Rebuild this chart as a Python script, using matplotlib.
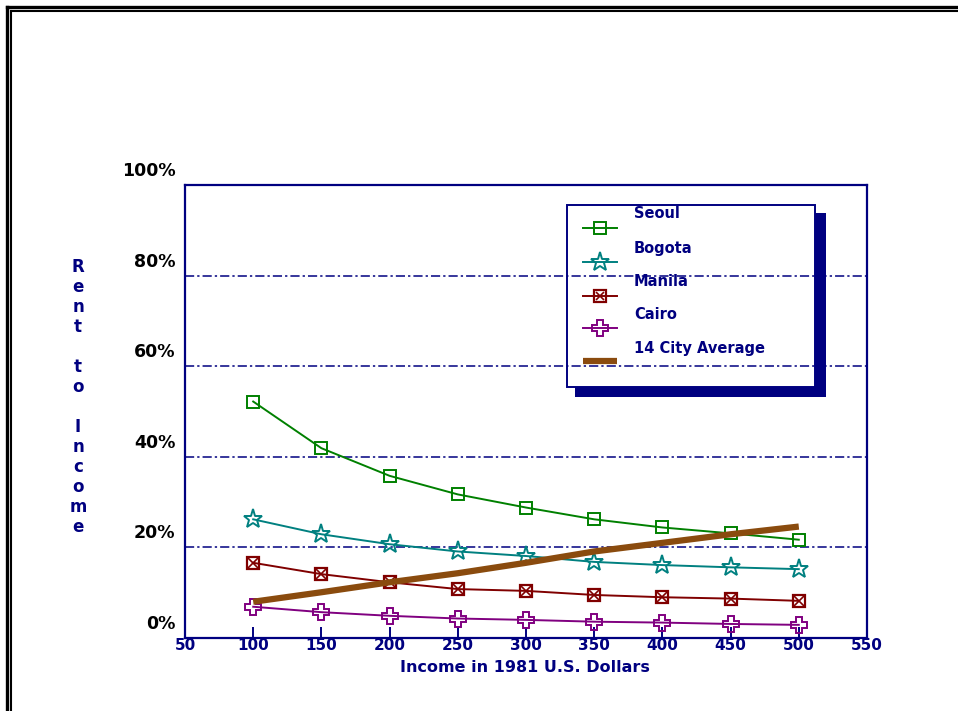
import numpy as np
from matplotlib import pyplot as plt
from matplotlib import lines as mlines
from matplotlib import patches as mpatches
from matplotlib.transforms import ScaledTranslation

income = [100, 150, 200, 250, 300, 350, 400, 450, 500]
seoul = [52.2, 41.9, 35.8, 31.7, 28.8, 26.2, 24.4, 23.1, 21.7]
bogota = [26.2, 22.9, 20.7, 19.1, 18.1, 16.8, 16.1, 15.6, 15.2]
manila = [16.6, 14.1, 12.3, 10.8, 10.4, 9.5, 9.0, 8.7, 8.2]
cairo = [6.9, 5.7, 4.9, 4.3, 4.0, 3.6, 3.4, 3.1, 2.9]
average = [8.0, 10.1, 12.3, 14.3, 16.6, 19.1, 21.0, 22.9, 24.6]

xticks = [50, 100, 150, 200, 250, 300, 350, 400, 450, 500, 550]
yticks = [0, 20, 40, 60, 80, 100]
ylabels = ['0%', '20%', '40%', '60%', '80%', '100%']

NAVY = '#000080'
W, H = 958, 711

fig = plt.figure(figsize=(W / 100, H / 100), dpi=100)
plt.rcParams['font.family'] = 'DejaVu Sans'

def fx(px):
	return px / W

def fy(py):
	return 1 - py / H

# double frame at top and left
fig.add_artist(mlines.Line2D([fx(6.5), fx(6.5)], [fy(6.5), 0], color='black', lw=2.4))
fig.add_artist(mlines.Line2D([fx(6.5), 1], [fy(6.5), fy(6.5)], color='black', lw=2.4))
fig.add_artist(mlines.Line2D([fx(10.5), fx(10.5)], [fy(10.5), 0], color='black', lw=1.5))
fig.add_artist(mlines.Line2D([fx(10.5), 1], [fy(10.5), fy(10.5)], color='black', lw=1.5))

ax = fig.add_axes([fx(185), fy(638), fx(867) - fx(185), fy(185) - fy(638)])
ax.set_xlim(50, 550)
ax.set_ylim(0, 100)
for s in ax.spines.values():
	s.set_color(NAVY)
	s.set_linewidth(1.6)

for g in yticks[1:-1]:
	ax.axhline(g, color=NAVY, lw=1.1, dashes=(6, 2, 1.5, 2), zorder=1)

ax.plot(income, seoul, color='#008000', lw=1.4, marker='s', ms=9, mfc='none', mew=1.4, zorder=3)
ax.plot(income, bogota, color='#008080', lw=1.4, marker='*', ms=14, mfc='none', mew=1.4, zorder=3)
ax.plot(income, manila, color='#800000', lw=1.4, marker='s', ms=9, mfc='none', mew=1.6, zorder=3)
ax.plot(income, manila, ls='none', color='#800000', marker='x', ms=7, mew=1.2, zorder=3)
ax.plot(income, cairo, color='#800080', lw=1.4, marker='P', ms=12, mfc='none', mew=1.4, zorder=3)
ax.plot(income, average, color='#8a4b0e', lw=4.5, solid_capstyle='butt', zorder=4)

ax.set_xticks(xticks)
ax.set_xticklabels([str(t) for t in xticks])
ax.tick_params(axis='x', direction='in', length=8, width=1.4, color=NAVY, pad=0,
	labelcolor=NAVY, labelsize=11)
for lab in ax.get_xticklabels():
	lab.set_fontweight('bold')

ax.set_yticks(yticks)
ax.set_yticklabels(ylabels)
ax.tick_params(axis='y', length=0, pad=7, labelcolor='black', labelsize=12.5)
for lab in ax.get_yticklabels():
	lab.set_fontweight('bold')
	lab.set_transform(lab.get_transform() + ScaledTranslation(0, 16 / 100, fig.dpi_scale_trans))

fig.text(fx(525), fy(668), 'Income in 1981 U.S. Dollars', color=NAVY, fontsize=11.5,
	fontweight='bold', ha='center', va='center')

# stacked vertical y label
letters = ['R', 'e', 'n', 't', '', 't', 'o', '', 'I', 'n', 'c', 'o', 'm', 'e']
for i, ch in enumerate(letters):
	fig.text(fx(78), fy(267 + i * 20), ch, color=NAVY, fontsize=12, fontweight='bold',
		ha='center', va='center')

# legend with shadow
fig.add_artist(mpatches.Rectangle((fx(815), fy(397)), fx(11), fy(213) - fy(397),
	facecolor=NAVY, edgecolor='none'))
fig.add_artist(mpatches.Rectangle((fx(575), fy(397)), fx(251), fy(387) - fy(397),
	facecolor=NAVY, edgecolor='none'))
fig.add_artist(mpatches.Rectangle((fx(567), fy(387)), fx(248), fy(205) - fy(387),
	facecolor='none', edgecolor=NAVY, lw=1.4))

names = ['Seoul', 'Bogota', 'Manila', 'Cairo', '14 City Average']
text_y = [213, 248, 281, 315, 348]
mark_y = [228, 262, 296, 328, 361]
styles = [
	dict(color='#008000', marker='s', ms=8, mfc='none', mew=1.4, lw=1.4, markevery=[1]),
	dict(color='#008080', marker='*', ms=14, mfc='none', mew=1.4, lw=1.4, markevery=[1]),
	dict(color='#800000', marker='s', ms=8, mfc='none', mew=1.6, lw=1.4, markevery=[1]),
	dict(color='#800080', marker='P', ms=12, mfc='none', mew=1.4, lw=1.4, markevery=[1]),
	dict(color='#8a4b0e', lw=4.5, solid_capstyle='butt'),
]
for name, ty, my, st in zip(names, text_y, mark_y, styles):
	fig.add_artist(mlines.Line2D([fx(583), fx(600), fx(617)], [fy(my)] * 3, **st))
	fig.text(fx(634), fy(ty), name, color=NAVY, fontsize=10.5, fontweight='bold', va='center')
fig.add_artist(mlines.Line2D([fx(600)], [fy(296)], ls='none', color='#800000', marker='x',
	ms=6, mew=1.2))

fig.savefig('out.png', dpi=100)
